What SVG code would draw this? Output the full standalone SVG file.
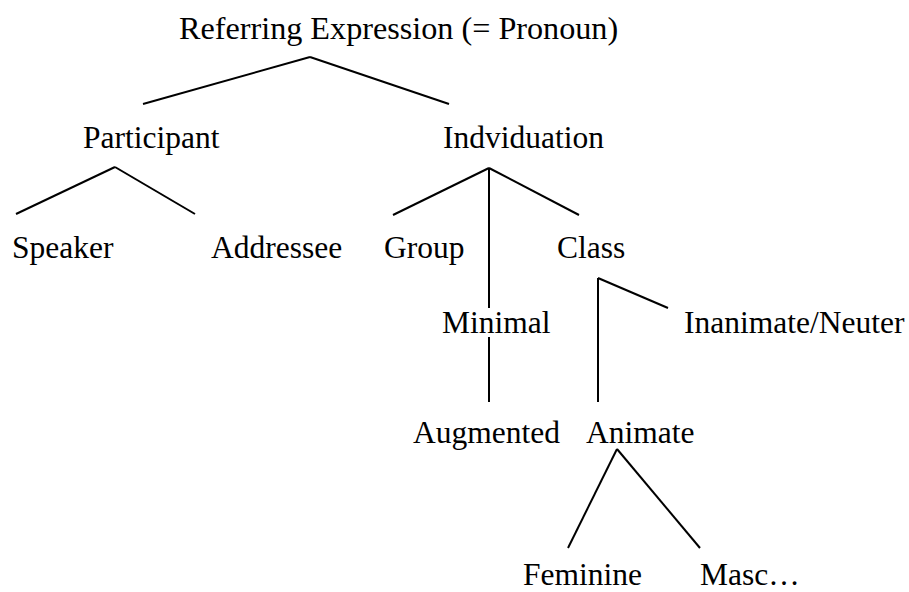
<svg xmlns="http://www.w3.org/2000/svg" width="909" height="592" viewBox="0 0 909 592">
<style>
text { font-family: "Liberation Serif", "Times New Roman", serif; font-size: 31.5px; fill: #000; }
line { stroke: #000; stroke-width: 2; }
</style>
<rect width="909" height="592" fill="#fff"/>
<g id="connectors">
<line x1="310" y1="57" x2="143" y2="104"/>
<line x1="310" y1="57" x2="449" y2="104"/>
<line x1="115" y1="167" x2="16" y2="214"/>
<line x1="115" y1="167" x2="195" y2="214"/>
<line x1="489" y1="168" x2="393" y2="215"/>
<line x1="489" y1="168" x2="579" y2="215"/>
<line x1="489" y1="168" x2="489" y2="308"/>
<line x1="489" y1="337" x2="489" y2="402"/>
<line x1="598" y1="278" x2="668" y2="308"/>
<line x1="598" y1="278" x2="598" y2="402"/>
<line x1="617" y1="449" x2="568" y2="548"/>
<line x1="617" y1="449" x2="700" y2="548"/>
</g>
<g id="root"><text x="179" y="39" style="font-size:32.2px">Referring Expression (= Pronoun)</text></g>
<g id="participant"><text x="83" y="148">Participant</text></g>
<g id="indviduation"><text x="443" y="148">Indviduation</text></g>
<g id="speaker"><text x="12" y="258">Speaker</text></g>
<g id="addressee"><text x="211" y="258">Addressee</text></g>
<g id="group"><text x="384" y="258">Group</text></g>
<g id="class"><text x="557" y="258">Class</text></g>
<g id="minimal"><text x="442" y="333">Minimal</text></g>
<g id="inanimate"><text x="684" y="333">Inanimate/Neuter</text></g>
<g id="augmented"><text x="413" y="443">Augmented</text></g>
<g id="animate"><text x="586" y="443">Animate</text></g>
<g id="feminine"><text x="523" y="585">Feminine</text></g>
<g id="masc"><text x="700" y="585">Masc…</text></g>
</svg>
